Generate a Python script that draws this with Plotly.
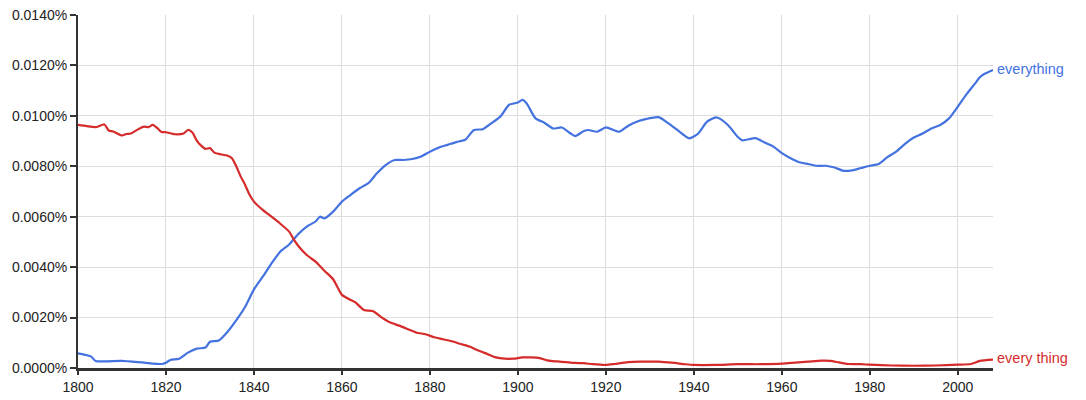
import plotly.graph_objects as go

# "everything" series (percent)
years_everything = [1800, 1803, 1804, 1810, 1815, 1819, 1820, 1821, 1823, 1825, 1827, 1829, 1830, 1832,
                    1834, 1836, 1838, 1840, 1842, 1844, 1846, 1848, 1850, 1852, 1854, 1855, 1856, 1858,
                    1860, 1862, 1864, 1866, 1868, 1870, 1872, 1874, 1876, 1878, 1880, 1882, 1884, 1886,
                    1888, 1890, 1892, 1894, 1896, 1898, 1900, 1901, 1902, 1904, 1906, 1908, 1910, 1912,
                    1913, 1915, 1916, 1918, 1920, 1923, 1925, 1927, 1929, 1932, 1934, 1936, 1938, 1939,
                    1941, 1943, 1945, 1946, 1948, 1950, 1951, 1954, 1956, 1958, 1960, 1962, 1964, 1966,
                    1968, 1970, 1972, 1974, 1976, 1978, 1980, 1982, 1984, 1986, 1988, 1990, 1992, 1994,
                    1996, 1998, 2000, 2002, 2004, 2005, 2006, 2008]
values_everything = [0.00058, 0.00045, 0.00028, 0.00028, 0.00021, 0.00016, 0.00021, 0.00032, 0.00037,
                     0.00061, 0.00077, 0.00081, 0.00104, 0.00109, 0.00144, 0.00190, 0.00243, 0.00312,
                     0.00362, 0.00415, 0.00462, 0.00490, 0.00530, 0.00561, 0.00581, 0.00600, 0.00593,
                     0.00620, 0.00660, 0.00687, 0.00713, 0.00733, 0.00773, 0.00806, 0.00825, 0.00825,
                     0.00829, 0.00839, 0.00858, 0.00874, 0.00885, 0.00896, 0.00905, 0.00944, 0.00947,
                     0.00971, 0.00997, 0.01044, 0.01053, 0.01063, 0.01049, 0.00990, 0.00973, 0.00950,
                     0.00954, 0.00930, 0.00920, 0.00940, 0.00944, 0.00937, 0.00954, 0.00937, 0.00960,
                     0.00977, 0.00987, 0.00995, 0.00973, 0.00947, 0.00920, 0.00911, 0.00930, 0.00977,
                     0.00994, 0.00988, 0.00959, 0.00916, 0.00903, 0.00912, 0.00895, 0.00879, 0.00852,
                     0.00832, 0.00816, 0.00809, 0.00802, 0.00802, 0.00795, 0.00782, 0.00784, 0.00793,
                     0.00802, 0.00809, 0.00836, 0.00858, 0.00889, 0.00914, 0.00930, 0.00950, 0.00964,
                     0.00990, 0.01037, 0.01086, 0.01130, 0.01153, 0.01166, 0.01182]

# "every thing" series (percent)
years_every_thing = [1800, 1802, 1804, 1806, 1807, 1808, 1810, 1811, 1812, 1814, 1815, 1816, 1817, 1818,
                     1819, 1820, 1822, 1824, 1825, 1826, 1827, 1828, 1829, 1830, 1831, 1832, 1834, 1835,
                     1836, 1837, 1838, 1839, 1840, 1842, 1844, 1846, 1848, 1849, 1850, 1852, 1854, 1856,
                     1858, 1859, 1860, 1862, 1863, 1865, 1867, 1869, 1871, 1873, 1875, 1877, 1879, 1881,
                     1883, 1885, 1887, 1889, 1891, 1893, 1895, 1897, 1899, 1901, 1903, 1905, 1907, 1909,
                     1911, 1913, 1915, 1917, 1920, 1922, 1925, 1928, 1932, 1935, 1938, 1940, 1945, 1950,
                     1955, 1960, 1963, 1966, 1969, 1971, 1973, 1975, 1978, 1980, 1985, 1990, 1995, 2000,
                     2003, 2005, 2008]
values_every_thing = [0.00964, 0.00959, 0.00955, 0.00966, 0.00942, 0.00938, 0.00922, 0.00928, 0.00930,
                      0.00950, 0.00957, 0.00955, 0.00964, 0.00952, 0.00936, 0.00935, 0.00927, 0.00930,
                      0.00944, 0.00934, 0.00902, 0.00882, 0.00869, 0.00872, 0.00854, 0.00849, 0.00842,
                      0.00832, 0.00799, 0.00759, 0.00726, 0.00687, 0.00660, 0.00627, 0.00600, 0.00572,
                      0.00541, 0.00511, 0.00486, 0.00448, 0.00422, 0.00386, 0.00352, 0.00320, 0.00290,
                      0.00270, 0.00261, 0.00230, 0.00226, 0.00201, 0.00180, 0.00168, 0.00154, 0.00140,
                      0.00134, 0.00122, 0.00114, 0.00106, 0.00095, 0.00085, 0.00069, 0.00056, 0.00042,
                      0.00037, 0.00037, 0.00042, 0.00042, 0.00039, 0.00029, 0.00026, 0.00023, 0.00020,
                      0.00019, 0.00015, 0.00012, 0.00016, 0.00023, 0.00025, 0.00025, 0.00021, 0.00015,
                      0.00012, 0.00012, 0.00015, 0.00015, 0.00017, 0.00021, 0.00025, 0.00029, 0.00028,
                      0.00022, 0.00016, 0.00015, 0.00013, 0.00010, 0.00009, 0.00010, 0.00013, 0.00016,
                      0.00028, 0.00033]

x_ticks = [1800, 1820, 1840, 1860, 1880, 1900, 1920, 1940, 1960, 1980, 2000]
y_ticks = [0.0, 0.002, 0.004, 0.006, 0.008, 0.010, 0.012, 0.014]
y_tick_labels = ["0.0000%", "0.0020%", "0.0040%", "0.0060%", "0.0080%", "0.0100%", "0.0120%", "0.0140%"]

BLUE = "#4472df"
RED = "#d52b2b"
FONT = "Liberation Sans, Arial, Helvetica, sans-serif"

fig = go.Figure()
fig.add_trace(go.Scatter(x=years_everything, y=values_everything, mode="lines",
                         line=dict(color=BLUE, width=2.2, shape="spline", smoothing=0.6),
                         name="everything", showlegend=False, hoverinfo="skip"))
fig.add_trace(go.Scatter(x=years_every_thing, y=values_every_thing, mode="lines",
                         line=dict(color=RED, width=2.2, shape="spline", smoothing=0.6),
                         name="every thing", showlegend=False, hoverinfo="skip"))

fig.add_annotation(x=years_everything[-1], y=values_everything[-1], text="everything",
                   showarrow=False, xanchor="left", yanchor="middle", xshift=2, yshift=1,
                   font=dict(color=BLUE, size=14.5, family=FONT))
fig.add_annotation(x=years_every_thing[-1], y=values_every_thing[-1], text="every thing",
                   showarrow=False, xanchor="left", yanchor="middle", xshift=2, yshift=2,
                   font=dict(color=RED, size=14.5, family=FONT))

fig.update_layout(
    width=1086, height=400,
    margin=dict(l=78, r=93, t=15, b=32),
    paper_bgcolor="white", plot_bgcolor="white",
    font=dict(family=FONT, size=14, color="#222222"),
    xaxis=dict(range=[1800, 2008], tickvals=x_ticks, ticktext=[str(t) for t in x_ticks],
               showgrid=True, gridcolor="#dddddd", gridwidth=1,
               showline=True, linecolor="#333333", linewidth=3,
               ticks="outside", ticklen=4, tickcolor="#333333", tickwidth=2,
               tickfont=dict(size=14, family=FONT, color="#222222"),
               zeroline=False, fixedrange=True, automargin=False),
    yaxis=dict(range=[0, 0.014], tickvals=y_ticks, ticktext=y_tick_labels,
               showgrid=True, gridcolor="#dddddd", gridwidth=1,
               showline=True, linecolor="#333333", linewidth=2,
               ticks="outside", ticklen=6, tickcolor="#333333", tickwidth=2,
               tickfont=dict(size=14, family=FONT, color="#222222"),
               zeroline=False, fixedrange=True, automargin=False),
)

fig.write_html("out.html", config={"displayModeBar": False},
               post_script="document.body.style.margin='0';document.body.style.overflow='hidden';")
